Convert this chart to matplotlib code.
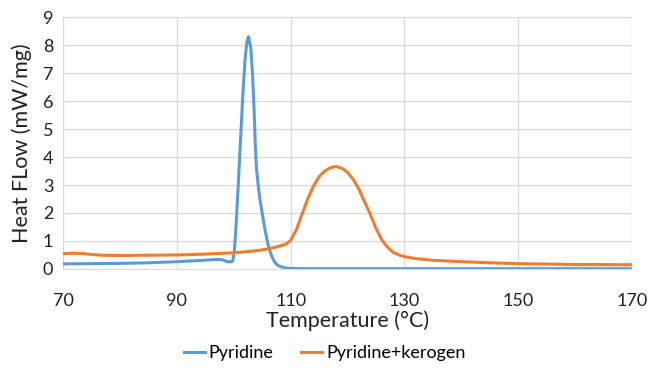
import matplotlib
matplotlib.use("Agg")
import matplotlib.pyplot as plt

# DSC curves, heat flow against temperature
temp_pyr = [70, 75, 80, 85, 90, 94, 97, 98, 98.7, 99.3, 99.8, 100.1, 100.4, 100.8,
            101.2, 101.6, 102.0, 102.3, 102.6, 103.0, 103.3, 103.6, 103.8, 104.0,
            104.3, 104.6, 105.0, 105.5, 106.0, 106.5, 107.0, 107.5, 108.0, 109.0,
            110.0, 112, 120, 140, 170]
flow_pyr = [0.18, 0.19, 0.2, 0.22, 0.26, 0.3, 0.34, 0.33, 0.27, 0.25, 0.27, 0.6, 1.5, 3.0,
            4.6, 6.2, 7.5, 8.1, 8.3, 7.9, 7.0, 5.6, 4.4, 3.6,
            3.0, 2.5, 2.0, 1.4, 0.9, 0.55, 0.32, 0.17, 0.1, 0.04,
            0.02, 0.01, 0.01, 0.01, 0.01]

temp_ker = [70, 72, 73.5, 75, 77, 80, 85, 90, 95, 100, 103, 105, 107, 108.5, 109.3,
            110, 111, 112, 113, 114, 115, 116, 117, 118, 119, 120, 121, 122, 123,
            124, 125, 126, 127, 128, 129, 130, 132, 135, 140, 145, 150, 160, 170]
flow_ker = [0.55, 0.56, 0.55, 0.52, 0.49, 0.48, 0.49, 0.5, 0.53, 0.58, 0.63, 0.68, 0.76,
            0.84, 0.9, 1.02, 1.4, 1.95, 2.5, 2.95, 3.3, 3.5, 3.62, 3.66, 3.6, 3.45,
            3.2, 2.85, 2.4, 1.95, 1.45, 1.05, 0.78, 0.6, 0.5, 0.44, 0.37, 0.31, 0.26,
            0.22, 0.19, 0.16, 0.15]

x_ticks = [70, 90, 110, 130, 150, 170]
y_ticks = list(range(0, 10))

plt.rcParams['font.family'] = ['Lato', 'DejaVu Sans']

fig = plt.figure(figsize=(6.49, 3.72), dpi=100)
ax = fig.add_axes([0.097, 0.277, 0.877, 0.677])

ax.plot(temp_pyr, flow_pyr, color='#5B9BD5', lw=2.2, label='Pyridine')
ax.plot(temp_ker, flow_ker, color='#ED7D31', lw=2.2, label='Pyridine+kerogen')

ax.set_xlim(70, 170)
ax.set_ylim(0, 9)
ax.set_xticks(x_ticks)
ax.set_yticks(y_ticks)
ax.grid(True, color='#D9D9D9', lw=0.9)
ax.set_axisbelow(True)
for s in ['top', 'right', 'left']:
    ax.spines[s].set_visible(False)
ax.spines['bottom'].set_color('#D9D9D9')
ax.tick_params(length=0, labelsize=13, colors='#222222')
ax.tick_params(axis='x', pad=17)
ax.tick_params(axis='y', pad=7)

ax.set_xlabel('Temperature (°C)', fontsize=15.5, color='#222222', labelpad=1)
ax.set_ylabel('Heat FLow (mW/mg)', fontsize=15.5, color='#222222', labelpad=8)

fig.legend(loc='center', bbox_to_anchor=(0.5, 0.05), ncol=2, frameon=False,
           fontsize=13, handlelength=1.2, handletextpad=0.2, columnspacing=1.5)

fig.savefig('out.png', dpi=100)
